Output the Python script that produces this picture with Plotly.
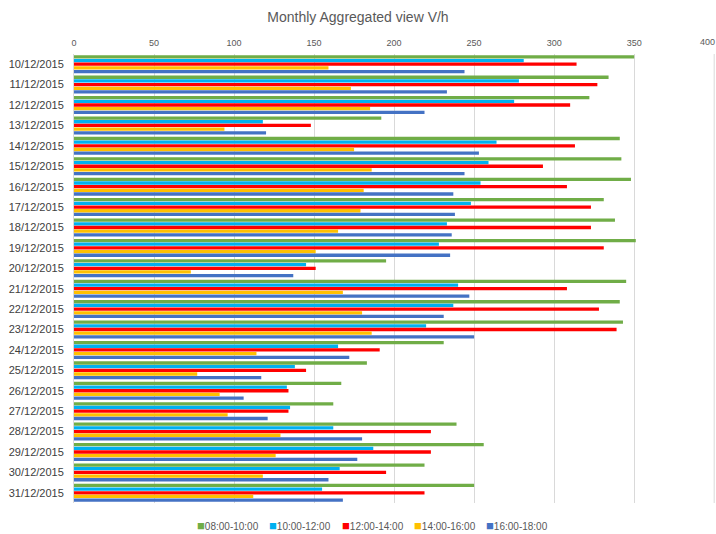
import plotly.graph_objects as go

dates = ["10/12/2015", "11/12/2015", "12/12/2015", "13/12/2015", "14/12/2015", "15/12/2015",
         "16/12/2015", "17/12/2015", "18/12/2015", "19/12/2015", "20/12/2015", "21/12/2015",
         "22/12/2015", "23/12/2015", "24/12/2015", "25/12/2015", "26/12/2015", "27/12/2015",
         "28/12/2015", "29/12/2015", "30/12/2015", "31/12/2015"]

s08_10 = [350, 334, 322, 192, 341, 342, 348, 331, 338, 351, 195, 345, 341, 343, 231, 183, 167, 162, 239, 256, 219, 250]
s10_12 = [281, 278, 275, 118, 264, 259, 254, 248, 233, 228, 145, 240, 237, 220, 165, 138, 133, 135, 162, 187, 166, 155]
s12_14 = [314, 327, 310, 148, 313, 293, 308, 323, 323, 331, 151, 308, 328, 339, 191, 145, 134, 134, 223, 223, 195, 219]
s14_16 = [159, 173, 185, 94, 175, 186, 181, 179, 165, 151, 73, 168, 180, 186, 114, 77, 91, 96, 129, 126, 118, 112]
s16_18 = [244, 233, 219, 120, 253, 244, 237, 238, 236, 235, 137, 247, 231, 250, 172, 117, 106, 121, 180, 177, 159, 168]

series_names = ["08:00-10:00", "10:00-12:00", "12:00-14:00", "14:00-16:00", "16:00-18:00"]
series_vals = [s08_10, s10_12, s12_14, s14_16, s16_18]
colors = ["#70ad47", "#00b0f0", "#ff0000", "#ffc000", "#4472c4"]

x_ticks = [0, 50, 100, 150, 200, 250, 300, 350, 400]
x_max = x_ticks[-1]

FONT = "Liberation Sans, Arial, sans-serif"
W, H = 716, 534
ML, MR, MT, MB = 74, 1, 54, 31

fig = go.Figure()
for name, vals, c in zip(series_names, series_vals, colors):
    fig.add_trace(go.Bar(
        y=dates, x=vals, name=name, orientation="h", showlegend=False,
        marker=dict(color=c, line=dict(width=0)),
    ))

# legend drawn as text annotations (colored square + label), laid out like the source
legend_x0 = 195
legend_step = 72.3
for i, (name, c) in enumerate(zip(series_names, colors)):
    fig.add_annotation(
        xref="paper", yref="paper",
        x=(legend_x0 + i * legend_step - ML) / (W - ML - MR), xanchor="left",
        y=-(525 - (H - MB)) / (H - MT - MB), yanchor="middle",
        text=f"<span style='color:{c};font-size:13px'>■</span>{name}",
        showarrow=False, font=dict(family=FONT, size=10, color="#595959"),
    )

# last tick at the right edge and its gridline
fig.add_annotation(xref="x", yref="paper", x=x_max, y=1, yshift=12, yanchor="middle",
                   xanchor="right", xshift=3, text=str(x_max), showarrow=False,
                   font=dict(family=FONT, size=9, color="#595959"))
fig.add_vline(x=x_max, line=dict(color="#d9d9d9", width=1), layer="below")

fig.update_layout(
    width=W, height=H,
    barmode="group", bargap=0.1, bargroupgap=0.1,
    paper_bgcolor="white", plot_bgcolor="white",
    margin=dict(l=ML, r=MR, t=MT, b=MB),
    title=dict(text="Monthly Aggregated view V/h", x=0.5, xanchor="center",
               y=1 - 17 / H, yanchor="middle",
               font=dict(family=FONT, size=14, color="#595959")),
    font=dict(family=FONT, color="#595959"),
    xaxis=dict(side="top", range=[0, 400.5], tickvals=x_ticks[:-1], ticktext=[str(v) for v in x_ticks[:-1]],
               showgrid=True, gridcolor="#d9d9d9", gridwidth=1, zeroline=False,
               tickfont=dict(size=9, color="#595959"), ticks="", ticklen=0,
               ticklabelstandoff=5, automargin=False),
    yaxis=dict(autorange="reversed", type="category", showgrid=False,
               showline=True, linecolor="#d9d9d9", linewidth=1,
               tickfont=dict(size=11, color="#404040"), ticks="", ticklabelstandoff=7,
               automargin=False),
    showlegend=False,
)

fig.write_html("out.html", post_script="document.body.style.margin='0';",
               config={"displayModeBar": False})
